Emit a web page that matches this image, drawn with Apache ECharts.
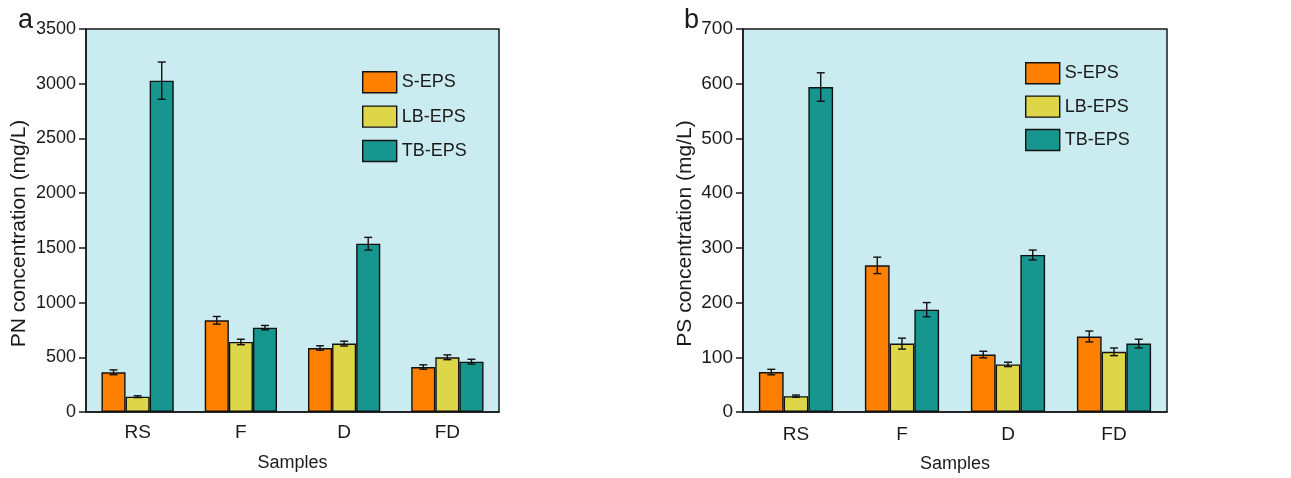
<!DOCTYPE html>
<html><head><meta charset="utf-8">
<script src="https://cdn.jsdelivr.net/npm/echarts@6/dist/echarts.min.js"></script>
<style>html,body{margin:0;padding:0;background:#fff}#c{width:1291px;height:478px}</style>
</head><body><div id="c"></div>
<script>
const categories = ['RS', 'F', 'D', 'FD'];
const seriesNames = ['S-EPS', 'LB-EPS', 'TB-EPS'];
// Panel a: PN concentration (mg/L)
const pnS = [363, 838, 585, 411];
const pnLB = [140, 640, 625, 500];
const pnTB = [3028, 771, 1538, 460];
const pnSErr = [22, 35, 20, 20];
const pnLBErr = [8, 25, 22, 22];
const pnTBErr = [170, 20, 58, 22];
// Panel b: PS concentration (mg/L)
const psS = [73, 268, 105, 138];
const psLB = [29, 125, 87, 110];
const psTB = [594, 187, 287, 125];
const psSErr = [5, 15, 6, 10];
const psLBErr = [2, 10, 4, 7];
const psTBErr = [26, 13, 9, 8];

const colors = ['#FF8000', '#DED649', '#17968F'];
const FONT = '"Liberation Sans", Arial, sans-serif';
const TXT = '#1a1a1a';

const chart = echarts.init(document.getElementById('c'));

function errSeries(idx, vals, errs, gi) {
  return {
    type: 'custom', xAxisIndex: gi, yAxisIndex: gi, z: 10, silent: true,
    data: vals.map((v, i) => [i, v, errs[i]]),
    encode: { x: 0, y: 1 },
    renderItem: function (params, api) {
      const x = api.value(0), v = api.value(1), e = api.value(2);
      const top = api.coord([x, v + e]);
      const bot = api.coord([x, v - e]);
      const cw = api.size([1, 0])[0];
      const bw = cw * 0.7 / 3;
      const cx = top[0] + (idx - 1) * bw;
      const h = 4;
      const st = { stroke: '#111', lineWidth: 1.4 };
      return { type: 'group', children: [
        { type: 'line', shape: { x1: cx, y1: top[1], x2: cx, y2: bot[1] }, style: st },
        { type: 'line', shape: { x1: cx - h, y1: top[1], x2: cx + h, y2: top[1] }, style: st },
        { type: 'line', shape: { x1: cx - h, y1: bot[1], x2: cx + h, y2: bot[1] }, style: st }
      ]};
    }
  };
}

function barSeries(idx, vals, gi) {
  return {
    name: seriesNames[idx], type: 'bar', xAxisIndex: gi, yAxisIndex: gi,
    data: vals, barGap: '0%', barCategoryGap: '30%',
    itemStyle: { color: colors[idx], borderColor: '#111', borderWidth: 1.4 }
  };
}

function xAxis(gi, margin, gap) {
  return {
    type: 'category', gridIndex: gi, data: categories,
    name: 'Samples', nameLocation: 'middle', nameGap: gap,
    nameTextStyle: { fontFamily: FONT, fontSize: 18, color: TXT },
    axisLine: { lineStyle: { color: '#1a1a1a', width: 1.5 } },
    axisTick: { alignWithLabel: true, length: 7, lineStyle: { color: '#1a1a1a', width: 1.5 } },
    axisLabel: { fontFamily: FONT, fontSize: 19, color: TXT, margin: margin }
  };
}

function yAxis(gi, name, max, interval, gap, fs, pad) {
  return {
    type: 'value', gridIndex: gi, min: 0, max: max, interval: interval,
    name: name, nameLocation: 'middle', nameGap: gap,
    nameTextStyle: { fontFamily: FONT, fontSize: 21, color: TXT, padding: pad },
    axisLine: { show: true, lineStyle: { color: '#1a1a1a', width: 1.5 } },
    axisTick: { show: true, length: 7, lineStyle: { color: '#1a1a1a', width: 1.5 } },
    splitLine: { show: false },
    axisLabel: { fontFamily: FONT, fontSize: fs, color: TXT, margin: 10, formatter: v => String(v) }
  };
}

function legend(left, top, gap) {
  return {
    left: left, top: top, orient: 'vertical', itemWidth: 34, itemHeight: 21, itemGap: gap,
    data: seriesNames, icon: 'rect', selectedMode: false,
    itemStyle: { borderColor: '#111', borderWidth: 1.4 },
    textStyle: { fontFamily: FONT, fontSize: 18, color: TXT, padding: [0, 0, 0, 0] }
  };
}

chart.setOption({
  animation: false,
  title: [
    { text: 'a', left: 13, top: 2, textStyle: { fontFamily: FONT, fontSize: 27, fontWeight: 'normal', color: TXT } },
    { text: 'b', left: 679, top: 2, textStyle: { fontFamily: FONT, fontSize: 27, fontWeight: 'normal', color: TXT } }
  ],
  legend: [legend(357, 66, 12), legend(1020, 57, 11)],
  grid: [
    { left: 86, top: 29, width: 413, height: 383, show: true, backgroundColor: '#CAEBEF', borderColor: '#1a1a1a', borderWidth: 1.5 },
    { left: 743, top: 29, width: 424, height: 387, show: true, backgroundColor: '#CAEBEF', borderColor: '#1a1a1a', borderWidth: 1.5 }
  ],
  xAxis: [xAxis(0, 11, 42), xAxis(1, 13, 43)],
  yAxis: [
    yAxis(0, 'PN concentration (mg/L)', 3500, 500, 56, 18, [0, 26, 0, 0]),
    yAxis(1, 'PS concentration (mg/L)', 700, 100, 47, 19, [0, 26, 0, 0])
  ],
  series: [
    barSeries(0, pnS, 0), barSeries(1, pnLB, 0), barSeries(2, pnTB, 0),
    barSeries(0, psS, 1), barSeries(1, psLB, 1), barSeries(2, psTB, 1),
    errSeries(0, pnS, pnSErr, 0), errSeries(1, pnLB, pnLBErr, 0), errSeries(2, pnTB, pnTBErr, 0),
    errSeries(0, psS, psSErr, 1), errSeries(1, psLB, psLBErr, 1), errSeries(2, psTB, psTBErr, 1)
  ]
});
</script></body></html>
